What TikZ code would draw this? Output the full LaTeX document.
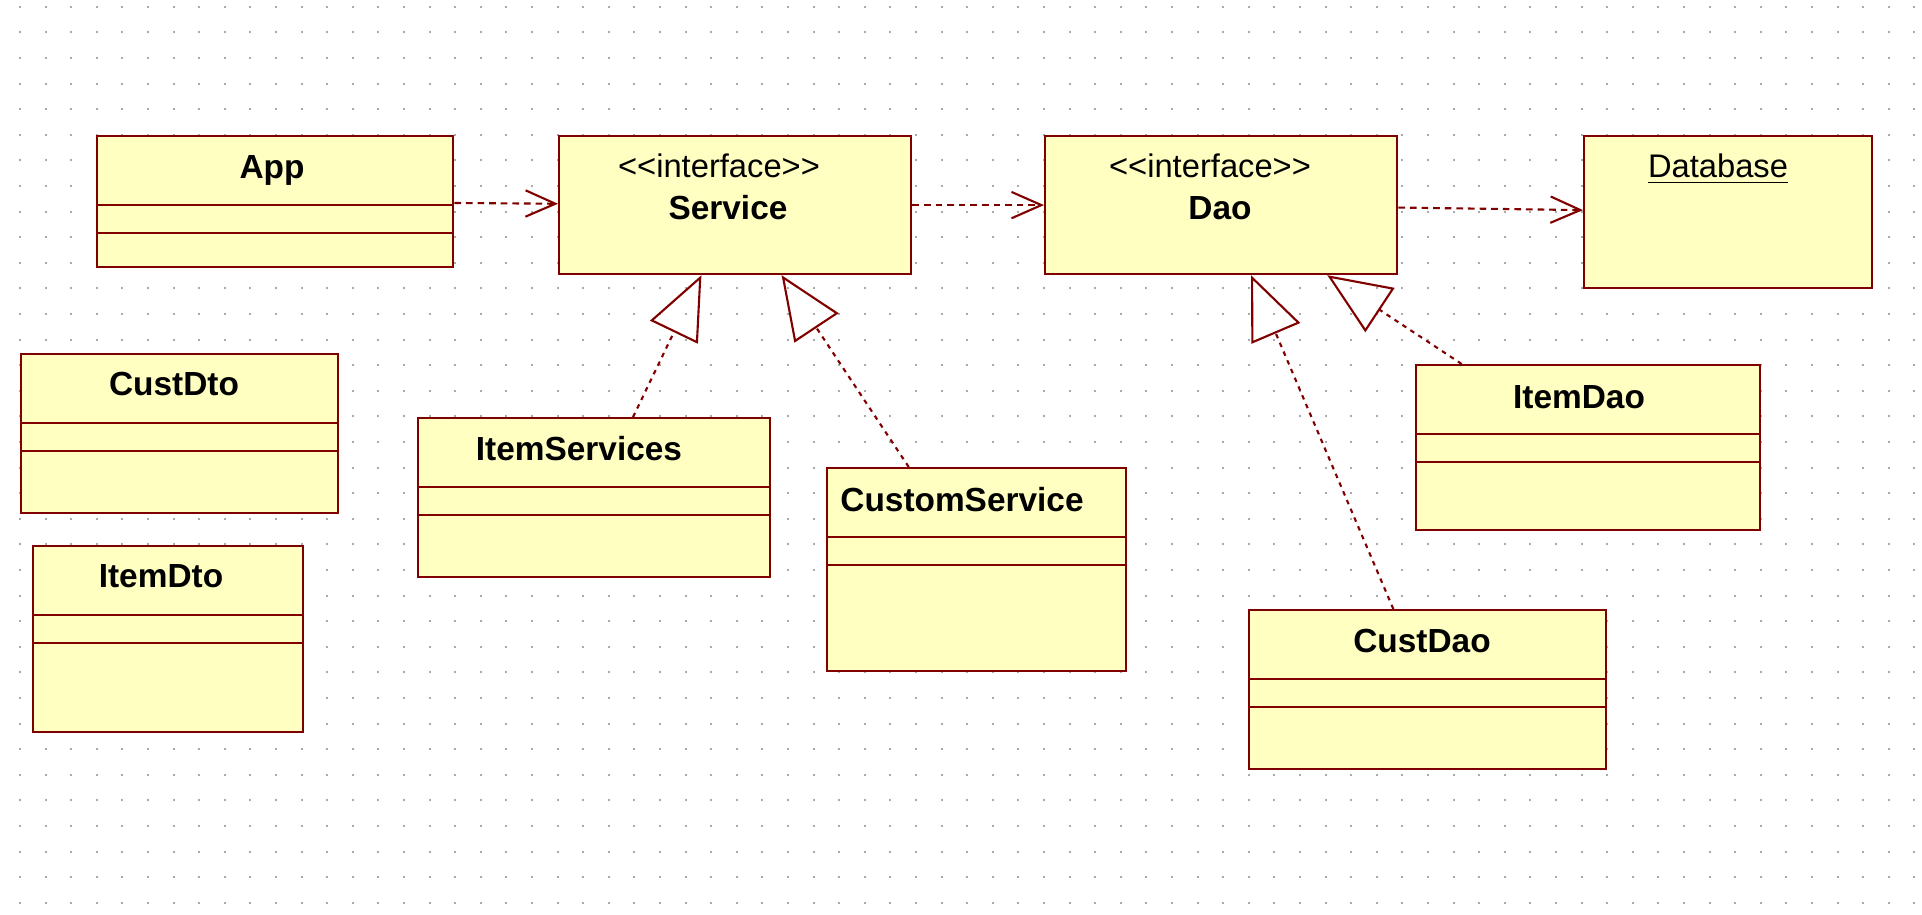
\documentclass[tikz,border=0pt]{standalone}
\usepackage{fontspec}
\setmainfont{Liberation Sans}
\usetikzlibrary{arrows.meta,calc,positioning}
\definecolor{umlred}{RGB}{128,0,0}
\definecolor{umlyellow}{RGB}{255,255,194}
\definecolor{griddot}{RGB}{170,170,170}
\tikzset{
    classbox/.style={
           rectangle,
           draw=umlred, line width=0.6pt,
           fill=umlyellow,
           inner sep=0pt,
           anchor=north west
           },
    classname/.style={
           anchor=base,
           inner sep=0pt,
           font=\fontsize{9.5}{11}\selectfont\bfseries
           },
    stereo/.style={
           anchor=base,
           inner sep=0pt,
           font=\fontsize{9.3}{11}\selectfont
           },
    compartment/.style={
           draw=umlred, line width=0.6pt
           },
    depends/.style={
           draw=umlred, line width=0.6pt,
           dash pattern=on 1.9pt off 1.4pt,
           -{Straight Barb[length=8.5pt,width=7.5pt]}
           },
    realizes/.style={
           draw=umlred, line width=0.6pt,
           dash pattern=on 1.3pt off 1.4pt,
           -{Triangle[open,length=18pt,width=15pt]}
           }
}
\begin{document}
\begin{tikzpicture}[x=0.01cm, y=-0.01cm]
\useasboundingbox (0,0) rectangle (1922,914);
% dotted grid
\foreach \i in {0,...,74}
  \foreach \j in {0,...,35}
    \fill[griddot] (19+25.6*\i, 5.7+25.6*\j) rectangle ++(2,2);
% classes
\node[classbox, minimum width=3.56cm, minimum height=1.31cm] (app) at (96,135) {};
\node[classbox, minimum width=3.52cm, minimum height=1.38cm] (service) at (558,135) {};
\node[classbox, minimum width=3.52cm, minimum height=1.38cm] (dao) at (1044,135) {};
\node[classbox, minimum width=2.88cm, minimum height=1.52cm] (database) at (1583,135) {};
\node[classbox, minimum width=3.17cm, minimum height=1.59cm] (custdto) at (20,353) {};
\node[classbox, minimum width=2.70cm, minimum height=1.86cm] (itemdto) at (32,545) {};
\node[classbox, minimum width=3.52cm, minimum height=1.59cm] (itemservices) at (417,417) {};
\node[classbox, minimum width=2.99cm, minimum height=2.03cm] (customservice) at (826,467) {};
\node[classbox, minimum width=3.44cm, minimum height=1.65cm] (itemdao) at (1415,364) {};
\node[classbox, minimum width=3.57cm, minimum height=1.59cm] (custdao) at (1248,609) {};
\foreach \c in {app,custdto,itemdto,itemservices,customservice,itemdao,custdao}{
  \draw[compartment] ($(\c.north west)+(0,70)$) -- ($(\c.north east)+(0,70)$);
  \draw[compartment] ($(\c.north west)+(0,98)$) -- ($(\c.north east)+(0,98)$);
}
% names
\node[classname] (app-name) at (272,178) {App};
\node[stereo] (service-stereo) at (719,177) {<\kern0pt<interface>\kern0pt>};
\node[classname] (service-name) at (728,219) {Service};
\node[stereo] (dao-stereo) at (1210,177) {<\kern0pt<interface>\kern0pt>};
\node[classname] (dao-name) at (1220,219) {Dao};
\node[stereo] (database-name) at (1718,177) {\underline{Database}};
\node[classname] (custdto-name) at (174,395) {CustDto};
\node[classname] (itemdto-name) at (161,587) {ItemDto};
\node[classname] (itemservices-name) at (579,460) {ItemServices};
\node[classname] (customservice-name) at (962,511) {CustomService};
\node[classname] (itemdao-name) at (1579,408) {ItemDao};
\node[classname] (custdao-name) at (1422,652) {CustDao};
% dependencies
\draw[depends] (app) -- (service);
\draw[depends] (service) -- (dao);
\draw[depends] (dao) -- (database);
% realizations
\draw[realizes] (itemservices) -- (service);
\draw[realizes] (customservice) -- (service);
\draw[realizes] (custdao) -- (dao);
\draw[realizes] (itemdao) -- (dao);
\end{tikzpicture}
\end{document}
